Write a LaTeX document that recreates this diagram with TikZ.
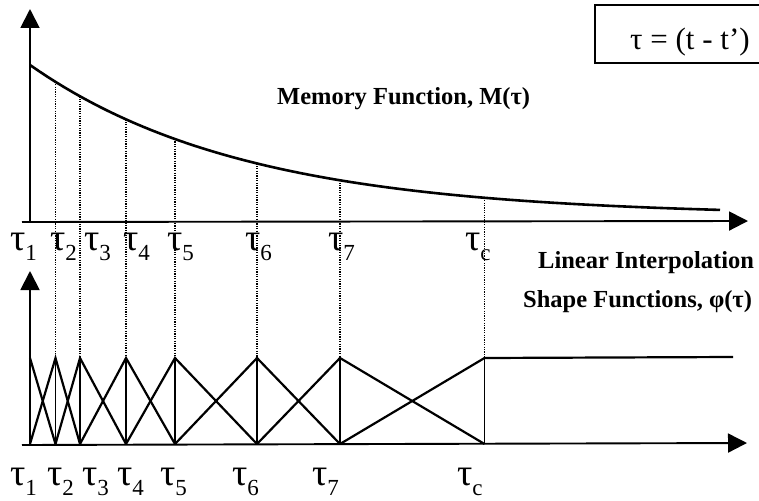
\documentclass[tikz,border=0pt]{standalone}
\usepackage{fontspec}
\setmainfont{Liberation Serif}
\usetikzlibrary{arrows.meta}
\tikzset{
  axis/.style={line width=1.9pt,-{Triangle[length=19pt,width=19pt]}},
  curve/.style={line width=2.6pt},
  hat/.style={line width=2.2pt},
  vline/.style={line width=1.4pt},
  guide/.style={line width=1.2pt,dash pattern=on 1.2pt off 1.2pt},
  taulab/.style={anchor=base west,inner sep=0pt,font=\fontsize{38}{38}\selectfont},
  title/.style={anchor=base west,inner sep=0pt,font=\fontsize{24.5}{24.5}\selectfont\bfseries},
}
\newcommand{\tsub}[1]{τ\raisebox{-10pt}{\fontsize{23}{23}\selectfont #1}}
\begin{document}
\begin{tikzpicture}[x=1pt,y=-1pt]
\useasboundingbox (0,0) rectangle (759,500);
\clip (0,0) rectangle (759,500);
% node positions
\foreach \n/\x in {1/30,2/55.5,3/80,4/126,5/175,6/257,7/340,c/484.5}{
  \coordinate (t\n) at (\x,222);
  \coordinate (c\n) at (\x,{222-151*exp(-(\x-30)/215)-6});
  \coordinate (p\n) at (\x,358);
  \coordinate (b\n) at (\x,444);
}
% top axes
\coordinate (top0) at (30,9);
\coordinate (tx0) at (22,222);
\coordinate (tx1) at (748,221);
\draw[axis] (t1) -- (top0);
\draw[axis] (tx0) -- (tx1);
% memory curve
\draw[curve] plot[domain=30:720,samples=80] (\x,{222-151*exp(-(\x-30)/215)-6});
% guide lines
\foreach \n in {2,3,4,5,6,7,c}{ \draw[guide] (c\n) -- (p\n); }
% lower axes
\coordinate (lo0) at (30,271);
\coordinate (bx0) at (22,445);
\coordinate (bx1) at (747,443);
\draw[axis] (30,446) -- (lo0);
\draw[axis] (bx0) -- (bx1);
% verticals in lower plot
\foreach \n in {2,3,4,5,6,7,c}{ \draw[vline] (p\n) -- (b\n); }
% hat functions
\draw[hat] (p1) -- (b2);
\draw[hat] (b1) -- (p2) -- (b3);
\draw[hat] (b2) -- (p3) -- (b4);
\draw[hat] (b3) -- (p4) -- (b5);
\draw[hat] (b4) -- (p5) -- (b6);
\draw[hat] (b5) -- (p6) -- (b7);
\draw[hat] (b6) -- (p7) -- (bc);
\coordinate (hend) at (733,357);
\draw[hat] (b7) -- (pc) -- (hend);
% top labels
\node[taulab] (lt1) at (10,250) {\tsub{1}};
\node[taulab] (lt2) at (50,250) {\tsub{2}};
\node[taulab] (lt3) at (84,250) {\tsub{3}};
\node[taulab] (lt4) at (123,250) {\tsub{4}};
\node[taulab] (lt5) at (167,250) {\tsub{5}};
\node[taulab] (lt6) at (245,250) {\tsub{6}};
\node[taulab] (lt7) at (328,250) {\tsub{7}};
\node[taulab] (ltc) at (465,250) {\tsub{c}};
% bottom labels
\node[taulab] (lb1) at (10,485) {\tsub{1}};
\node[taulab] (lb2) at (47,485) {\tsub{2}};
\node[taulab] (lb3) at (82,485) {\tsub{3}};
\node[taulab] (lb4) at (117,485) {\tsub{4}};
\node[taulab] (lb5) at (160,485) {\tsub{5}};
\node[taulab] (lb6) at (232,485) {\tsub{6}};
\node[taulab] (lb7) at (312,485) {\tsub{7}};
\node[taulab] (lbc) at (457,485) {\tsub{c}};
% titles
\node[title] (mem) at (277,105) {Memory Function, M(τ)};
\node[title] (lin) at (538,268) {Linear Interpolation};
\node[title] (shp) at (523,307) {Shape Functions, φ(τ)};
% definition box
\draw[line width=1.9pt] (595,5) rectangle (775,63);
\node[anchor=base west,inner sep=0pt,font=\fontsize{31}{31}\selectfont] (def) at (630,50) {τ = (t - t’)};
\end{tikzpicture}
\end{document}
